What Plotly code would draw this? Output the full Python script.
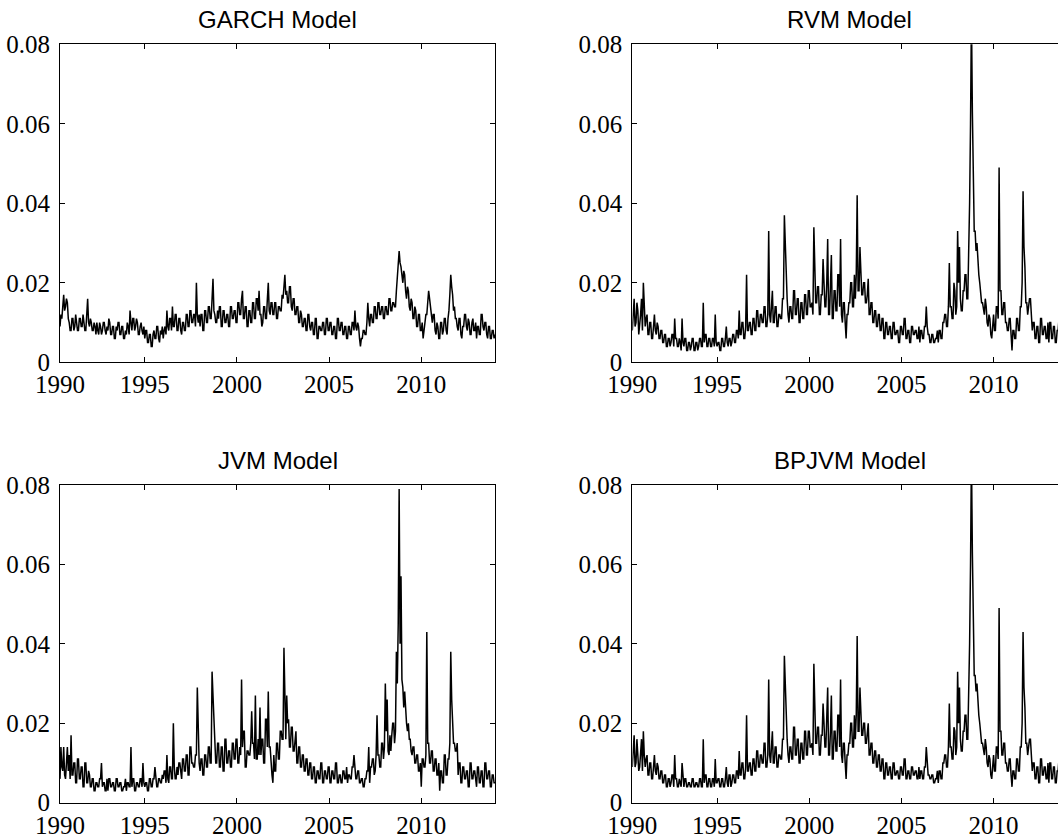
import plotly.graph_objects as go

# Sampling: one reading every 0.05 year, first reading at 1990.40
START_YEAR = 1990.4
STEP_YEARS = 0.05

# Volatility readings in units of 0.001; first row 1990.40-1990.95,
# then one row per calendar year (20 readings), last row 2014.00
garch_rows = [
    [9, 12, 11, 15, 17, 13, 14, 16, 15, 11, 10, 8],
    [8, 11, 11, 8, 9, 12, 10, 8, 8, 11, 11, 9, 9, 12, 10, 8, 8, 11, 16, 10],
    [9, 11, 10, 8, 8, 10, 9, 7, 10, 8, 7, 10, 9, 7, 8, 10, 10, 8, 7, 9],
    [8, 11, 10, 7, 7, 9, 9, 6, 6, 9, 8, 10, 10, 7, 7, 9, 9, 6, 6, 8],
    [7, 10, 9, 7, 13, 10, 8, 11, 11, 8, 9, 11, 10, 7, 7, 9, 10, 8, 7, 9],
    [6, 8, 8, 5, 5, 7, 7, 4, 4, 7, 8, 6, 6, 9, 9, 6, 5, 8, 7, 9],
    [6, 8, 9, 7, 13, 9, 8, 11, 11, 8, 14, 9, 9, 12, 12, 8, 8, 11, 11, 8],
    [7, 10, 10, 8, 8, 12, 12, 9, 9, 13, 13, 10, 10, 12, 12, 9, 20, 12, 10, 12],
    [9, 12, 12, 8, 8, 13, 13, 10, 10, 14, 14, 11, 11, 16, 21, 13, 12, 10, 10, 13],
    [11, 14, 14, 9, 9, 13, 13, 10, 10, 12, 12, 9, 9, 14, 14, 11, 11, 13, 13, 10],
    [10, 15, 15, 12, 12, 16, 18, 11, 11, 14, 14, 9, 9, 13, 13, 10, 10, 15, 15, 11],
    [11, 16, 16, 13, 18, 12, 12, 9, 10, 14, 14, 11, 11, 16, 20, 13, 12, 15, 15, 12],
    [12, 15, 15, 11, 11, 14, 14, 13, 13, 17, 16, 19, 22, 17, 18, 15, 15, 19, 19, 14],
    [13, 16, 16, 12, 12, 14, 14, 10, 10, 13, 12, 9, 9, 11, 11, 8, 8, 12, 12, 9],
    [8, 10, 10, 7, 7, 11, 11, 6, 6, 9, 9, 8, 8, 10, 10, 7, 7, 11, 11, 8],
    [8, 10, 10, 7, 7, 9, 9, 6, 6, 11, 11, 8, 8, 10, 10, 7, 7, 9, 9, 6],
    [6, 9, 9, 7, 7, 10, 10, 8, 13, 9, 8, 10, 9, 6, 4, 6, 6, 8, 8, 7],
    [7, 10, 15, 11, 9, 12, 12, 10, 10, 14, 14, 11, 11, 15, 15, 12, 12, 14, 14, 11],
    [11, 14, 14, 12, 12, 16, 16, 13, 13, 15, 15, 14, 14, 18, 22, 26, 28, 25, 24, 22],
    [20, 23, 22, 18, 16, 19, 18, 14, 13, 16, 15, 11, 11, 14, 13, 9, 9, 12, 12, 8],
    [8, 10, 6, 8, 10, 12, 12, 15, 18, 16, 14, 11, 10, 12, 12, 8, 7, 10, 9, 6],
    [6, 10, 10, 7, 8, 11, 11, 8, 7, 11, 13, 17, 22, 19, 17, 13, 14, 11, 11, 9],
    [8, 11, 11, 7, 6, 9, 9, 12, 12, 9, 8, 11, 10, 7, 7, 10, 11, 8, 8, 10],
    [6, 9, 9, 7, 7, 12, 12, 9, 8, 10, 10, 7, 6, 9, 9, 6, 6, 8, 8, 6],
    [7],
]

rvm_rows = [
    [8, 14, 16, 9, 10, 15, 13, 7, 9, 12, 16, 8],
    [20, 12, 9, 11, 12, 7, 7, 10, 10, 6, 6, 9, 12, 8, 7, 10, 9, 6, 6, 8],
    [8, 5, 5, 7, 7, 4, 4, 6, 6, 4, 5, 7, 7, 4, 11, 6, 6, 4, 4, 6],
    [5, 3, 11, 5, 4, 6, 6, 3, 3, 5, 5, 3, 4, 6, 6, 3, 3, 5, 5, 3],
    [4, 6, 6, 4, 4, 15, 5, 7, 7, 4, 4, 6, 6, 4, 4, 6, 6, 4, 12, 5],
    [4, 5, 5, 3, 3, 6, 6, 4, 4, 6, 9, 5, 4, 6, 6, 4, 5, 7, 7, 5],
    [5, 8, 8, 6, 13, 7, 7, 10, 10, 6, 6, 9, 22, 8, 8, 10, 10, 7, 7, 11],
    [11, 8, 8, 13, 13, 9, 9, 12, 12, 10, 10, 14, 14, 9, 9, 12, 33, 12, 10, 14],
    [18, 10, 10, 14, 14, 9, 9, 12, 12, 11, 11, 16, 16, 37, 30, 20, 16, 12, 10, 14],
    [14, 11, 11, 18, 18, 12, 12, 16, 16, 10, 10, 15, 15, 11, 11, 17, 17, 12, 12, 18],
    [18, 14, 14, 15, 12, 34, 19, 15, 15, 19, 19, 12, 12, 17, 17, 26, 20, 14, 14, 20],
    [31, 12, 12, 18, 27, 11, 11, 18, 18, 13, 13, 22, 22, 14, 31, 12, 10, 15, 15, 10],
    [6, 12, 12, 15, 15, 20, 20, 14, 14, 22, 16, 22, 42, 18, 18, 29, 22, 17, 17, 20],
    [20, 15, 15, 17, 21, 12, 12, 15, 15, 10, 10, 13, 13, 9, 9, 12, 12, 8, 8, 11],
    [11, 6, 6, 10, 10, 7, 7, 9, 9, 6, 6, 10, 10, 7, 7, 8, 8, 5, 5, 9],
    [9, 7, 7, 11, 11, 6, 6, 8, 8, 5, 5, 9, 9, 7, 7, 8, 8, 6, 6, 9],
    [5, 8, 8, 6, 6, 9, 9, 14, 9, 7, 7, 5, 5, 7, 7, 5, 5, 6, 6, 8],
    [5, 8, 8, 6, 6, 10, 10, 12, 12, 9, 9, 14, 25, 14, 14, 11, 11, 20, 18, 12],
    [14, 33, 20, 29, 16, 13, 13, 18, 18, 22, 22, 16, 16, 25, 40, 60, 88, 63, 45, 33],
    [33, 28, 30, 25, 22, 20, 18, 15, 15, 13, 12, 16, 14, 10, 9, 12, 11, 7, 6, 9],
    [12, 8, 8, 14, 14, 11, 49, 18, 18, 12, 12, 15, 15, 10, 10, 8, 8, 11, 11, 7],
    [3, 8, 8, 6, 6, 11, 11, 8, 8, 14, 14, 20, 43, 29, 24, 15, 15, 12, 14, 16],
    [16, 12, 8, 10, 10, 6, 6, 9, 9, 5, 5, 11, 11, 7, 7, 9, 9, 6, 6, 10],
    [5, 10, 10, 6, 6, 9, 9, 5, 5, 8, 8, 11, 11, 7, 7, 10, 10, 6, 6, 9],
    [8],
]

jvm_rows = [
    [6, 14, 9, 8, 14, 7, 6, 12, 14, 8, 12, 6],
    [17, 7, 7, 10, 10, 5, 5, 11, 11, 6, 6, 9, 9, 4, 4, 10, 10, 5, 5, 8],
    [7, 4, 4, 6, 6, 3, 3, 5, 5, 4, 4, 6, 6, 10, 4, 5, 5, 3, 3, 6],
    [3, 6, 6, 4, 4, 5, 5, 3, 3, 6, 6, 4, 4, 5, 5, 3, 3, 4, 4, 6],
    [3, 5, 5, 4, 4, 14, 4, 6, 6, 3, 3, 5, 5, 4, 4, 6, 6, 4, 10, 5],
    [4, 5, 5, 3, 3, 6, 6, 4, 4, 6, 6, 9, 5, 4, 4, 6, 6, 5, 5, 7],
    [6, 8, 8, 5, 12, 6, 5, 9, 9, 6, 6, 20, 9, 6, 6, 9, 7, 10, 10, 7],
    [6, 11, 11, 8, 8, 12, 12, 7, 7, 14, 14, 10, 10, 9, 9, 12, 12, 29, 17, 10],
    [8, 11, 11, 7, 7, 12, 12, 9, 9, 14, 14, 10, 10, 33, 27, 20, 13, 10, 10, 15],
    [15, 9, 9, 14, 14, 8, 8, 16, 16, 10, 10, 13, 13, 9, 9, 15, 15, 11, 11, 16],
    [16, 10, 10, 14, 12, 31, 14, 18, 18, 9, 9, 13, 13, 12, 12, 15, 23, 15, 15, 11],
    [27, 11, 11, 16, 12, 24, 12, 16, 16, 10, 10, 21, 21, 14, 28, 14, 14, 9, 7, 5],
    [12, 8, 8, 15, 15, 11, 11, 18, 18, 16, 16, 39, 22, 16, 27, 20, 21, 14, 14, 19],
    [19, 13, 13, 16, 18, 10, 10, 14, 14, 9, 9, 12, 12, 8, 8, 11, 11, 7, 7, 10],
    [10, 6, 6, 9, 9, 5, 5, 8, 8, 6, 6, 10, 10, 5, 5, 8, 8, 6, 6, 9],
    [9, 5, 5, 8, 8, 6, 6, 10, 10, 5, 5, 7, 7, 5, 5, 8, 8, 6, 6, 9],
    [5, 7, 7, 6, 6, 9, 9, 12, 8, 6, 6, 8, 8, 5, 5, 6, 6, 4, 4, 6],
    [6, 8, 8, 14, 5, 9, 9, 11, 11, 7, 8, 12, 22, 12, 12, 9, 9, 15, 15, 11],
    [14, 30, 18, 26, 13, 12, 17, 13, 17, 20, 20, 15, 18, 38, 30, 45, 79, 40, 57, 31],
    [29, 24, 28, 23, 20, 18, 20, 16, 16, 13, 12, 14, 14, 10, 10, 12, 12, 8, 8, 10],
    [4, 11, 11, 9, 9, 12, 43, 15, 15, 10, 10, 13, 13, 8, 8, 11, 11, 7, 7, 10],
    [3, 8, 8, 5, 5, 12, 12, 7, 7, 11, 11, 15, 38, 26, 20, 15, 15, 13, 13, 15],
    [7, 10, 10, 5, 5, 9, 9, 6, 6, 8, 8, 4, 4, 10, 10, 6, 6, 8, 8, 5],
    [4, 9, 9, 5, 5, 8, 8, 4, 4, 10, 10, 6, 6, 8, 8, 4, 4, 7, 7, 5],
    [5],
]

bpjvm_rows = [
    [9, 14, 17, 9, 10, 16, 13, 8, 9, 12, 16, 8],
    [18, 12, 9, 11, 12, 7, 7, 10, 10, 6, 6, 9, 12, 8, 7, 10, 9, 6, 6, 8],
    [8, 5, 5, 7, 7, 4, 4, 6, 6, 4, 5, 7, 7, 4, 12, 6, 6, 4, 4, 6],
    [5, 4, 10, 5, 4, 6, 6, 4, 4, 5, 5, 4, 4, 6, 6, 4, 4, 5, 5, 4],
    [4, 6, 6, 4, 4, 16, 5, 7, 7, 4, 4, 6, 6, 4, 4, 6, 6, 4, 11, 5],
    [5, 6, 6, 4, 4, 6, 6, 4, 4, 6, 9, 5, 4, 7, 7, 4, 5, 7, 7, 5],
    [5, 8, 8, 6, 13, 7, 7, 10, 10, 6, 6, 9, 22, 8, 8, 10, 10, 7, 7, 11],
    [11, 8, 8, 13, 13, 9, 9, 12, 12, 10, 10, 15, 15, 9, 9, 12, 31, 12, 10, 14],
    [18, 10, 10, 14, 14, 9, 9, 12, 12, 11, 11, 16, 16, 37, 30, 20, 16, 12, 10, 14],
    [14, 11, 11, 19, 19, 12, 12, 16, 16, 10, 10, 15, 15, 11, 11, 18, 18, 12, 12, 18],
    [18, 14, 14, 15, 12, 35, 19, 15, 15, 19, 19, 12, 12, 17, 17, 25, 20, 14, 14, 20],
    [29, 12, 12, 18, 27, 11, 11, 18, 18, 13, 13, 22, 22, 14, 31, 12, 10, 15, 15, 10],
    [6, 12, 12, 15, 15, 20, 20, 14, 14, 22, 16, 22, 42, 18, 18, 29, 22, 17, 17, 20],
    [20, 15, 15, 17, 20, 12, 12, 15, 15, 10, 10, 13, 13, 9, 9, 12, 12, 8, 8, 11],
    [11, 6, 6, 10, 10, 7, 7, 9, 9, 6, 6, 10, 10, 7, 7, 8, 8, 6, 6, 9],
    [9, 7, 7, 11, 11, 6, 6, 8, 8, 6, 6, 9, 9, 7, 7, 8, 8, 6, 6, 9],
    [6, 8, 8, 6, 6, 9, 9, 14, 9, 7, 7, 6, 6, 7, 7, 5, 5, 6, 6, 8],
    [5, 8, 8, 6, 6, 10, 10, 12, 12, 9, 9, 14, 25, 14, 14, 11, 11, 19, 18, 12],
    [14, 33, 20, 29, 16, 13, 13, 18, 18, 22, 22, 16, 16, 25, 40, 60, 88, 63, 45, 32],
    [32, 28, 30, 25, 22, 20, 18, 15, 15, 13, 12, 16, 14, 10, 9, 12, 11, 7, 6, 9],
    [12, 8, 8, 14, 14, 11, 49, 18, 18, 12, 12, 15, 15, 10, 10, 8, 8, 11, 11, 7],
    [4, 8, 8, 6, 6, 11, 11, 8, 8, 14, 14, 20, 43, 29, 24, 15, 15, 12, 14, 16],
    [16, 12, 8, 10, 10, 6, 6, 9, 9, 5, 5, 11, 11, 7, 7, 9, 9, 6, 6, 10],
    [5, 10, 10, 6, 6, 9, 9, 5, 5, 8, 8, 11, 11, 7, 7, 10, 10, 6, 6, 9],
    [8],
]

titles = ["GARCH Model", "RVM Model", "JVM Model", "BPJVM Model"]
x_tick_vals = [1990.4, 1995, 2000, 2005, 2010]
x_tick_text = ["1990", "1995", "2000", "2005", "2010"]
y_tick_vals = [0, 0.02, 0.04, 0.06, 0.08]
y_tick_text = ["0", "0.02", "0.04", "0.06", "0.08"]


def flatten(rows):
    expected = [12] + [20] * 23 + [1]
    lens = [len(r) for r in rows]
    if lens != expected:
        raise ValueError(f"row lengths {lens}")
    return [v / 1000 for r in rows for v in r]


garch = flatten(garch_rows)
rvm = flatten(rvm_rows)
jvm = flatten(jvm_rows)
bpjvm = flatten(bpjvm_rows)

W, H = 1058, 838
dates = [round(START_YEAR + STEP_YEARS * i, 3) for i in range(len(garch))]

# panel geometry (pixels)
left_x = (60, 495)
right_x = (632.3, 1058)
top_y = (44.3, 362.3)
bot_y = (485, 802.7)
px_per_year = (left_x[1] - left_x[0]) / 23.6
right_range_end = 1990.4 + (right_x[1] - right_x[0]) / px_per_year

panels = [
    (garch, left_x, top_y, [1990.4, 2014.0], True),
    (rvm, right_x, top_y, [1990.4, right_range_end], False),
    (jvm, left_x, bot_y, [1990.4, 2014.0], True),
    (bpjvm, right_x, bot_y, [1990.4, right_range_end], False),
]

fig = go.Figure()
tick_font = dict(family="Liberation Serif", size=25, color="black")

for i, (vals, xs, ys, xr, full_box) in enumerate(panels, start=1):
    xa = "x" if i == 1 else f"x{i}"
    ya = "y" if i == 1 else f"y{i}"
    fig.add_trace(go.Scatter(
        x=dates, y=vals, mode="lines",
        line=dict(color="black", width=1.5), xaxis=xa, yaxis=ya,
        showlegend=False, hoverinfo="skip",
    ))
    xkey = "xaxis" if i == 1 else f"xaxis{i}"
    ykey = "yaxis" if i == 1 else f"yaxis{i}"
    fig.layout[xkey] = dict(
        domain=[xs[0] / W, xs[1] / W], range=xr, anchor=ya,
        tickvals=x_tick_vals, ticktext=x_tick_text, ticks="inside",
        ticklen=5, tickcolor="black", showline=True, linecolor="black",
        linewidth=1.2, mirror="ticks", showgrid=False, zeroline=False,
        tickfont=tick_font, ticklabelstandoff=0, automargin=False,
    )
    fig.layout[ykey] = dict(
        domain=[1 - ys[1] / H, 1 - ys[0] / H], range=[0, 0.08], anchor=xa,
        tickvals=y_tick_vals, ticktext=y_tick_text, ticks="inside",
        ticklen=5, tickcolor="black", showline=True, linecolor="black",
        linewidth=1.2, mirror="ticks" if full_box else False,
        showgrid=False, zeroline=False, tickfont=tick_font,
        ticklabelstandoff=4, automargin=False,
    )
    center_x = ((xs[0] + (xs[0] + 435)) / 2) / W
    fig.add_annotation(
        text=titles[i - 1], xref="paper", yref="paper",
        x=center_x, y=1 - (ys[0] - 24.8) / H, xanchor="center",
        yanchor="middle", showarrow=False,
        font=dict(family="Liberation Sans", size=24, color="black"),
    )

fig.update_layout(
    template="none",
    width=W, height=H, margin=dict(l=0, r=0, t=0, b=0, autoexpand=False),
    plot_bgcolor="white", paper_bgcolor="white",
)

fig.write_html("out.html")
